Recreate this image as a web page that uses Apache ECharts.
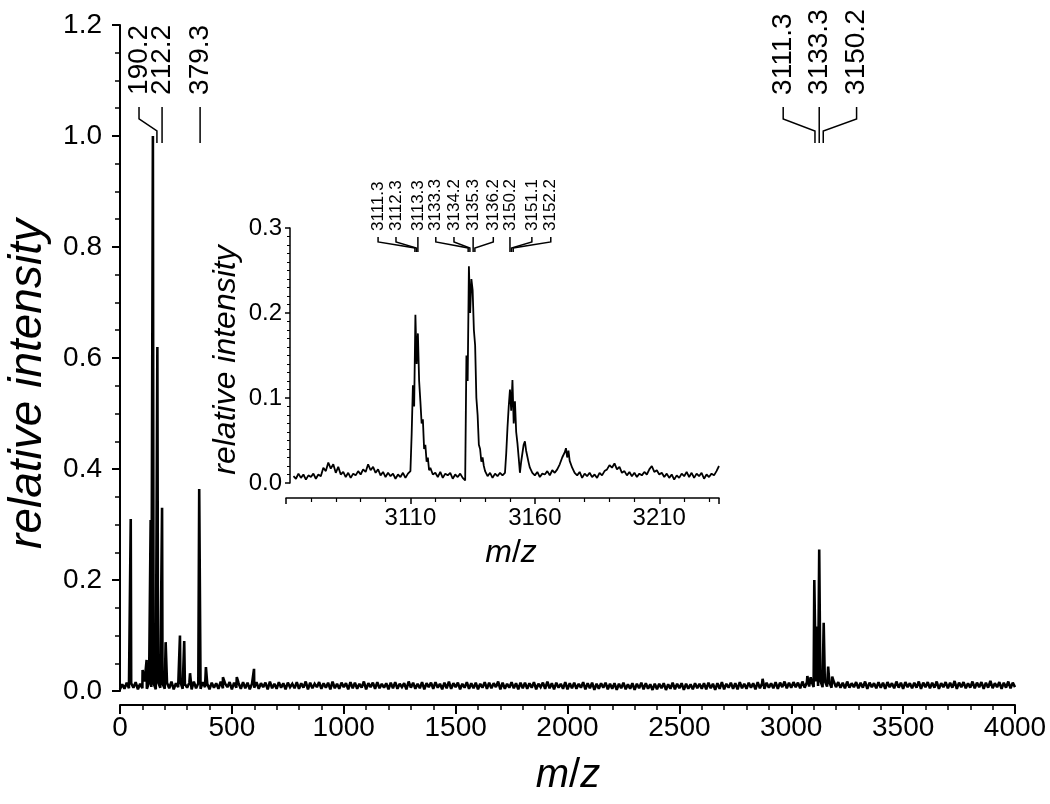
<!DOCTYPE html>
<html><head><meta charset="utf-8">
<script src="https://cdn.jsdelivr.net/npm/echarts@6/dist/echarts.min.js"></script>
<style>html,body{margin:0;padding:0;background:#fff}#c{width:1050px;height:804px}</style>
</head><body><div id="c"></div>
<script>
// ---------- DATA ----------
// main spectrum baseline, m/z 0..4000 every 10, intensity in thousandths
const baselineStartMz = 0;
const baselineStepMz = 10;
const baselineMilli = [
3,12,4,15,5,14,6,16,3,13,5,17,4,15,7,14,3,16,6,13,
4,15,5,17,3,14,7,16,4,13,6,15,3,17,5,14,4,16,7,13,
3,15,6,14,4,17,5,13,7,16,3,15,6,14,4,16,5,15,3,13,
6,16,4,14,7,15,3,17,5,13,4,16,6,14,3,15,7,13,5,16,
4,14,6,17,3,15,5,13,7,16,4,14,6,15,3,17,5,13,4,15,
7,14,3,16,5,15,4,13,6,17,3,14,7,15,4,16,5,13,6,14,
3,15,5,16,4,13,7,14,3,17,6,15,4,13,5,16,3,14,7,15,
4,16,6,13,3,15,5,17,4,14,7,15,3,13,6,16,4,14,5,15,
3,13,6,16,4,15,5,14,7,17,3,15,4,13,6,16,5,14,3,15,
5,15,4,14,6,16,3,13,7,15,4,17,5,14,3,15,6,13,4,16,
3,14,5,15,4,13,6,16,3,14,5,15,2,13,4,14,6,15,3,13,
4,14,2,13,5,15,3,12,4,14,2,13,5,15,3,14,4,12,2,13,
3,13,5,14,2,12,4,15,3,13,5,14,2,13,4,12,3,14,5,13,
4,14,3,15,5,13,2,14,4,16,3,13,6,15,4,14,3,16,5,13,
4,15,6,14,3,16,5,14,4,15,6,14,5,16,4,15,7,17,5,15,
6,16,7,15,5,17,6,16,8,18,7,17,9,19,7,18,8,16,6,17,
7,16,6,15,5,17,6,14,7,16,5,15,6,17,4,15,7,14,5,16,
6,15,4,16,7,14,5,17,6,15,4,16,7,14,5,15,6,17,4,15,
7,16,5,15,6,17,4,14,7,16,5,15,6,18,4,15,7,16,5,14,
6,17,5,15,7,16,4,15,6,18,5,14,7,16,4,15,6,17,5,15,
7
];
// main spectrum peaks [m/z, relative intensity]
const mainPeaks = [
[48,0.31],[72,0.014],[101,0.038],[119,0.056],[137,0.308],[147,1.0],[167,0.62],
[188,0.33],[204,0.088],[268,0.1],[287,0.09],[313,0.032],[354,0.364],[384,0.043],
[460,0.025],[522,0.025],[599,0.04],[2872,0.022],[3072,0.027],[3087,0.025],
[3103,0.2],[3111,0.116],[3125,0.255],[3145,0.123],[3165,0.044],[3183,0.026]
];
// inset trace [m/z, relative intensity]
const insetTrace = [
[3063,.008],[3064,.005],[3065,.011],[3066,.006],[3067,.010],[3068,.004],[3069,.009],[3070,.007],
[3071,.011],[3072,.005],[3073,.010],[3074,.008],[3075,.018],[3076,.014],[3077,.024],[3078,.017],
[3079,.022],[3080,.012],[3081,.019],[3082,.010],[3083,.013],[3084,.007],[3085,.012],[3086,.006],
[3087,.011],[3088,.009],[3089,.014],[3090,.010],[3091,.016],[3092,.013],[3093,.022],[3094,.015],
[3095,.019],[3096,.012],[3097,.016],[3098,.009],[3099,.013],[3100,.007],[3101,.012],[3102,.008],
[3103,.011],[3104,.005],[3105,.010],[3106,.007],[3107,.012],[3108,.006],[3109,.011],[3110,.014],
[3110.5,.058],[3111,.115],[3111.5,.09],[3112,.198],[3112.5,.14],[3113,.176],[3113.5,.12],[3114,.096],
[3114.5,.07],[3115,.075],[3115.5,.04],[3116,.045],[3116.5,.025],[3117,.03],[3117.5,.015],[3118,.018],
[3119,.010],[3120,.012],[3121,.007],[3122,.013],[3123,.006],[3124,.011],[3125,.009],[3126,.012],
[3127,.005],[3128,.010],[3129,.007],[3130,.011],[3131,.006],[3132,.003],[3132.5,.15],[3133,.12],
[3133.5,.255],[3134,.2],[3134.5,.24],[3135,.227],[3135.5,.18],[3136,.162],[3136.5,.1],[3137,.08],
[3137.5,.045],[3138,.04],[3138.5,.025],[3139,.03],[3139.5,.02],[3140,.014],[3141,.008],[3142,.012],
[3143,.006],[3144,.011],[3145,.008],[3146,.012],[3147,.009],[3148,.012],[3148.5,.035],[3149,.065],
[3149.5,.09],[3150,.11],[3150.5,.085],[3151,.121],[3151.5,.07],[3152,.096],[3152.5,.06],[3153,.047],
[3153.5,.03],[3154,.012],[3154.5,.025],[3155,.035],[3155.5,.045],[3156,.049],[3156.5,.038],[3157,.04],
[3157.5,.024],[3158,.018],[3159,.012],[3160,.009],[3161,.013],[3162,.007],[3163,.011],[3164,.010],
[3165,.014],[3166,.009],[3167,.015],[3168,.012],[3169,.016],[3170,.022],[3171,.030],[3172,.036],
[3172.5,.041],[3173,.030],[3173.5,.038],[3174,.026],[3175,.018],[3176,.012],[3177,.009],[3178,.013],
[3179,.006],[3180,.011],[3181,.008],[3182,.012],[3183,.007],[3184,.010],[3185,.006],[3186,.012],
[3187,.009],[3188,.014],[3189,.016],[3190,.021],[3191,.018],[3192,.023],[3193,.016],[3194,.019],
[3195,.012],[3196,.014],[3197,.009],[3198,.013],[3199,.008],[3200,.012],[3201,.007],[3202,.011],
[3203,.009],[3204,.013],[3205,.010],[3206,.016],[3207,.020],[3208,.013],[3209,.015],[3210,.010],
[3211,.012],[3212,.007],[3213,.011],[3214,.006],[3215,.010],[3216,.004],[3217,.009],[3218,.006],
[3219,.011],[3220,.008],[3221,.013],[3222,.007],[3223,.012],[3224,.006],[3225,.011],[3226,.008],
[3227,.012],[3228,.005],[3229,.010],[3230,.007],[3231,.011],[3232,.009],[3233,.014],[3234,.020]
];
// peak annotations (main)
const mainLabels = ['190.2','212.2','379.3','3111.3','3133.3','3150.2'];
const mainLabelMz = [85, 188, 358, 2964, 3125, 3292];
const mainPeakMz = [165, 188, 358, 3106, 3125, 3143];
const mainLabelLevel = 1.074;
// peak annotations (inset)
const insetLabels = ['3111.3','3112.3','3113.3','3133.3','3134.2','3135.3','3136.2','3150.2','3151.1','3152.2'];
const insetLabelMz = [3097, 3104.2, 3113, 3120.2, 3127.5, 3135.2, 3143.3, 3150, 3158.8, 3166.4];
const insetPeakMz = [3111.8, 3112.4, 3113, 3133.2, 3133.9, 3135.2, 3135.9, 3150, 3150.6, 3151.3];
const insetLabelLevel = 0.2965;
// axis ranges
const mainX = {min: 0, max: 4000, interval: 500};
const mainY = {min: 0, max: 1.2, interval: 0.2};
const insetX = {min: 3060, max: 3234, interval: 50};
const insetY = {min: 0, max: 0.3, interval: 0.1};

// ---------- BUILD ----------
const FONT = '"Liberation Sans", Arial, Helvetica, sans-serif';
const mainData = baselineMilli.map((v, i) => [baselineStartMz + i * baselineStepMz, v / 1000])
  .concat(mainPeaks.map(p => [p[0], p[1]]))
  .sort((a, b) => a[0] - b[0]);

function annotSeries(xi, yi, labels, labelMz, peakMz, level, offs, fontSize) {
  return {
    type: 'custom', xAxisIndex: xi, yAxisIndex: yi, clip: false, silent: true, z: 10,
    data: labels.map((t, i) => [labelMz[i], peakMz[i], level]),
    encode: {x: [0, 1], y: 2},
    renderItem: function (params, api) {
      const i = params.dataIndex;
      const a = api.coord([api.value(0), api.value(2)]);
      const b = api.coord([api.value(1), api.value(2)]);
      const x0 = a[0], x1 = b[0], y0 = a[1];
      let pts;
      if (Math.abs(x1 - x0) < 0.6) pts = [[x0, y0 + offs[0]], [x0, y0 + offs[3]]];
      else pts = [[x0, y0 + offs[0]], [x0, y0 + offs[1]], [x1, y0 + offs[2]], [x1, y0 + offs[3]]];
      return {type: 'group', children: [
        {type: 'polyline', shape: {points: pts}, style: {stroke: '#000', lineWidth: 1.5, fill: 'none'}},
        {type: 'text', x: x0, y: y0, rotation: Math.PI / 2,
         style: {text: labels[i], fill: '#000', font: fontSize + 'px ' + FONT,
                 textAlign: 'left', textVerticalAlign: 'middle', align: 'left', verticalAlign: 'middle'}}
      ]};
    }
  };
}

function valAxis(range, extra) {
  return Object.assign({
    type: 'value', min: range.min, max: range.max, interval: range.interval,
    splitLine: {show: false},
    axisLine: {show: true, onZero: false, lineStyle: {color: '#000', width: 2}},
    axisTick: {show: true, inside: false, lineStyle: {color: '#000', width: 2}},
    minorTick: {show: true, lineStyle: {color: '#000', width: 1.5}},
    axisLabel: {color: '#000', fontFamily: FONT}
  }, extra);
}

const chart = echarts.init(document.getElementById('c'), null, {renderer: 'canvas'});
chart.setOption({
  animation: false,
  backgroundColor: '#fff',
  grid: [
    {left: 120, right: 35, top: 25, bottom: 113, containLabel: false},
    {left: 286, right: 331, top: 228, bottom: 321, containLabel: false}
  ],
  xAxis: [
    valAxis(mainX, {gridIndex: 0, position: 'bottom', offset: 14,
      axisTick: {show: true, length: 9, lineStyle: {color: '#000', width: 2}},
      minorTick: {show: true, splitNumber: 5, length: 5, lineStyle: {color: '#000', width: 1.5}},
      axisLabel: {color: '#000', fontFamily: FONT, fontSize: 28, margin: 9, formatter: v => String(v)}}),
    valAxis(insetX, {gridIndex: 1, position: 'bottom', offset: 15,
      axisLine: {show: true, onZero: false, lineStyle: {color: '#000', width: 1.5}},
      axisTick: {show: true, length: 6, lineStyle: {color: '#000', width: 1.5}},
      minorTick: {show: true, splitNumber: 5, length: 4, lineStyle: {color: '#000', width: 1.2}},
      axisLabel: {color: '#000', fontFamily: FONT, fontSize: 24, margin: 8, showMinLabel: false, showMaxLabel: false,
                  formatter: v => String(v)}})
  ],
  yAxis: [
    valAxis(mainY, {gridIndex: 0, position: 'left',
      axisTick: {show: true, length: 8, lineStyle: {color: '#000', width: 2}},
      minorTick: {show: true, splitNumber: 4, length: 5, lineStyle: {color: '#000', width: 1.5}},
      axisLabel: {color: '#000', fontFamily: FONT, fontSize: 28, margin: 18, formatter: v => v.toFixed(1)}}),
    valAxis(insetY, {gridIndex: 1, position: 'left', offset: -4,
      axisLine: {show: true, onZero: false, lineStyle: {color: '#000', width: 1.5}},
      axisTick: {show: true, length: 5, lineStyle: {color: '#000', width: 1.5}},
      minorTick: {show: true, splitNumber: 10, length: 3, lineStyle: {color: '#000', width: 1}},
      axisLabel: {color: '#000', fontFamily: FONT, fontSize: 24, margin: 8, formatter: v => v.toFixed(1)}})
  ],
  series: [
    {type: 'line', xAxisIndex: 0, yAxisIndex: 0, data: mainData, showSymbol: false, symbol: 'none',
     lineStyle: {color: '#000', width: 2.6, join: 'miter', miterLimit: 2}, silent: true},
    {type: 'line', xAxisIndex: 1, yAxisIndex: 1, data: insetTrace, showSymbol: false, symbol: 'none',
     lineStyle: {color: '#000', width: 1.8}, silent: true},
    annotSeries(0, 0, mainLabels, mainLabelMz, mainPeakMz, mainLabelLevel, [12, 24, 36, 48], 28),
    annotSeries(1, 1, insetLabels, insetLabelMz, insetPeakMz, insetLabelLevel, [6, 11, 17, 21], 17)
  ],
  graphic: [
    {type: 'text', x: 28, y: 384, rotation: Math.PI / 2,
     style: {text: 'relative intensity', font: 'italic 46px ' + FONT, fill: '#000',
             textAlign: 'center', textVerticalAlign: 'middle', align: 'center', verticalAlign: 'middle'}},
    {type: 'text', x: 568, y: 776,
     style: {text: '{i|m}/{i|z}', font: '40px ' + FONT, fill: '#000',
             rich: {i: {font: 'italic 40px ' + FONT, fill: '#000'}},
             textAlign: 'center', textVerticalAlign: 'middle', align: 'center', verticalAlign: 'middle'}},
    {type: 'text', x: 226, y: 360, rotation: Math.PI / 2,
     style: {text: 'relative intensity', font: 'italic 32px ' + FONT, fill: '#000',
             textAlign: 'center', textVerticalAlign: 'middle', align: 'center', verticalAlign: 'middle'}},
    {type: 'text', x: 511, y: 553,
     style: {text: '{i|m}/{i|z}', font: '32px ' + FONT, fill: '#000',
             rich: {i: {font: 'italic 32px ' + FONT, fill: '#000'}},
             textAlign: 'center', textVerticalAlign: 'middle', align: 'center', verticalAlign: 'middle'}}
  ]
});
</script>
</body></html>
